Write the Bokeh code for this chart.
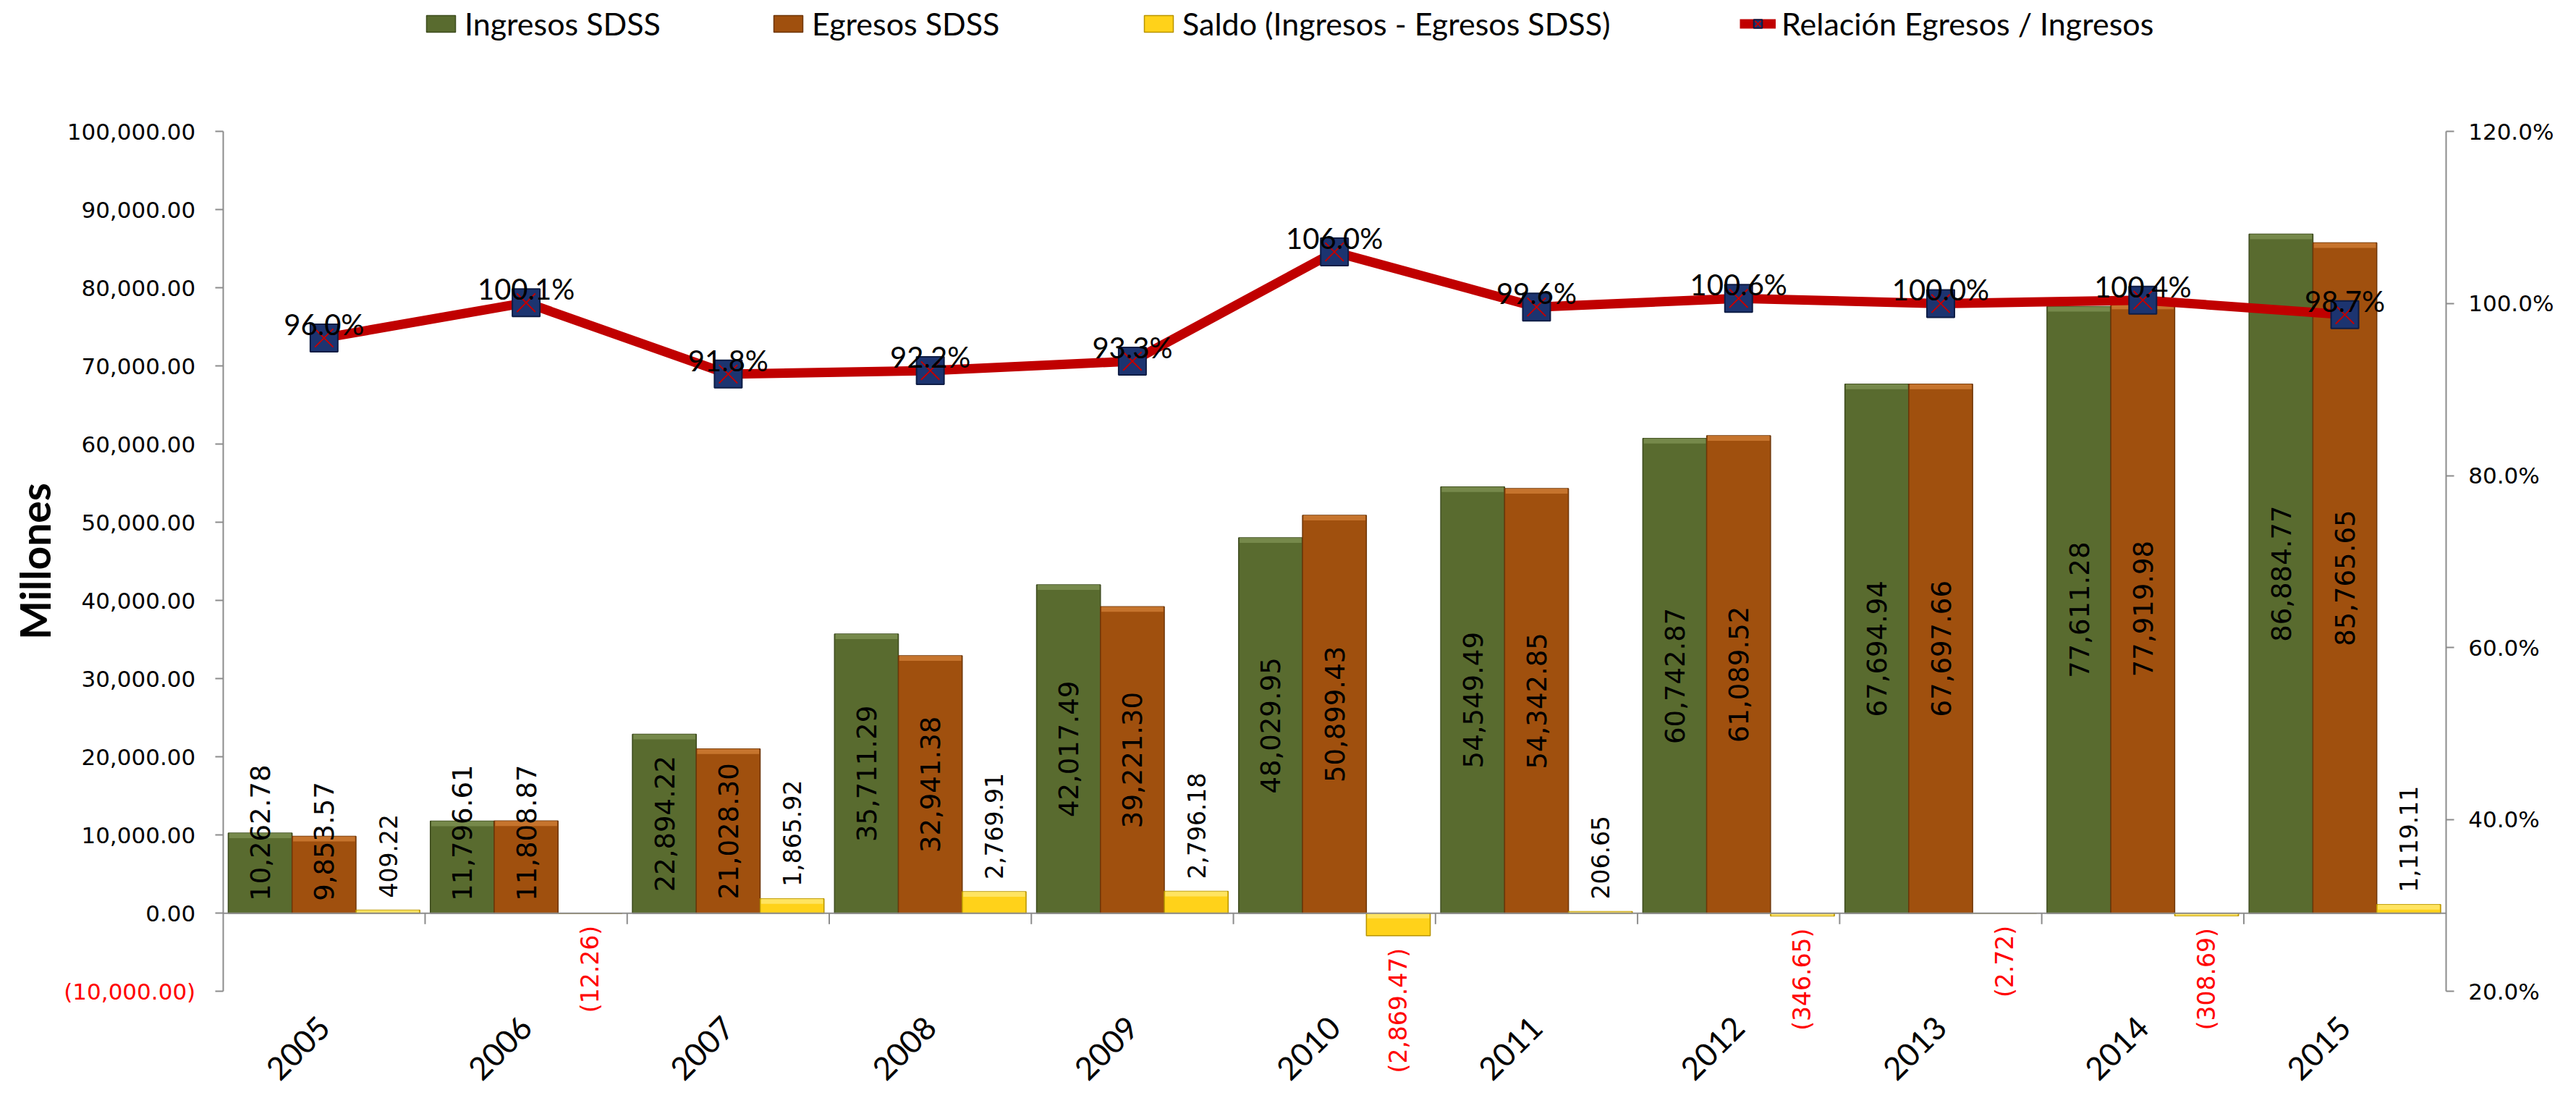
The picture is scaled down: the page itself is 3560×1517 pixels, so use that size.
import math
from bokeh.plotting import figure
from bokeh.models import (ColumnDataSource, Range1d, LinearAxis, FixedTicker,
                          NumeralTickFormatter, PrintfTickFormatter, Label, Legend, LegendItem)
from bokeh.transform import dodge
from bokeh.core.properties import value
from bokeh.embed import file_html
from bokeh.resources import INLINE

# ---------------- data ----------------
years = ["2005", "2006", "2007", "2008", "2009", "2010", "2011", "2012", "2013", "2014", "2015"]
ingresos = [10262.78, 11796.61, 22894.22, 35711.29, 42017.49, 48029.95, 54549.49, 60742.87, 67694.94, 77611.28, 86884.77]
egresos = [9853.57, 11808.87, 21028.30, 32941.38, 39221.30, 50899.43, 54342.85, 61089.52, 67697.66, 77919.98, 85765.65]
saldo = [409.22, -12.26, 1865.92, 2769.91, 2796.18, -2869.47, 206.65, -346.65, -2.72, -308.69, 1119.11]
relacion = [96.0, 100.1, 91.8, 92.2, 93.3, 106.0, 99.6, 100.6, 100.0, 100.4, 98.7]

y_ticks = [-10000, 0, 10000, 20000, 30000, 40000, 50000, 60000, 70000, 80000, 90000, 100000]
pct_ticks = [20, 40, 60, 80, 100, 120]

series_names = ["Ingresos SDSS", "Egresos SDSS", "Saldo (Ingresos - Egresos SDSS)",
                "Relación Egresos / Ingresos"]

# ---------------- layout / style ----------------
W, H = 3544, 1501
AX_L, AX_R = 307.7, 3379.7        # pixel x of left / right value axes
Y_TOP, Y_BOT = 181.3, 1369.3      # pixel y of top / bottom of value axes
n = len(years)
gw = (AX_R - AX_L) / n
upp = (y_ticks[-1] - y_ticks[0]) / (Y_BOT - Y_TOP)
ppp = (pct_ticks[-1] - pct_ticks[0]) / (Y_BOT - Y_TOP)

GREEN, GREEN_D, GREEN_L = "#596B2F", "#3E4C1F", "#7D9152"
ORANGE, ORANGE_D, ORANGE_L = "#A0500E", "#6E3608", "#CF7D36"
YELLOW, YELLOW_D, YELLOW_L = "#FFD21A", "#B89400", "#FFE873"
RED = "#C00000"
NAVY, NAVY_D = "#1C3470", "#0E1D45"
AXIS_C = "#8C8C8C"

BAR_FS = 37
SAL_FS = 33


def fmt(v):
    return f"{v:,.2f}" if v >= 0 else f"({abs(v):,.2f})"


def text_len(s, fs):
    return sum(0.318 if c in ",." else 0.636 for c in s) * fs


def inside_y(v, s):
    return max(v / 2.0, (text_len(s, BAR_FS) / 2.0 + 17) * upp)


def band(v):
    hi = max(v, 0.0)
    lo = max(min(v, 0.0), hi - 7 * upp)
    return hi, lo


xs = [i + 0.5 for i in range(n)]
ing_txt = [fmt(v) for v in ingresos]
egr_txt = [fmt(v) for v in egresos]
src = ColumnDataSource(dict(
    x=xs, ing=ingresos, egr=egresos, sal=saldo, rel=relacion,
    ing_txt=ing_txt, egr_txt=egr_txt,
    ing_ly=[inside_y(v, s) for v, s in zip(ingresos, ing_txt)],
    egr_ly=[inside_y(v, s) for v, s in zip(egresos, egr_txt)],
    rel_txt=[f"{v:.1f}%" for v in relacion],
    rel_ly=[v + 19 * ppp for v in relacion],
    ing_bh=[band(v)[0] for v in ingresos], ing_bl=[band(v)[1] for v in ingresos],
    egr_bh=[band(v)[0] for v in egresos], egr_bl=[band(v)[1] for v in egresos],
    sal_bh=[band(v)[0] for v in saldo], sal_bl=[band(v)[1] for v in saldo],
))

pos_idx = [i for i, v in enumerate(saldo) if v >= 0]
neg_idx = [i for i, v in enumerate(saldo) if v < 0]
src_pos = ColumnDataSource(dict(x=[xs[i] for i in pos_idx],
                                y=[saldo[i] + 17 * upp for i in pos_idx],
                                t=[fmt(saldo[i]) for i in pos_idx]))
src_neg = ColumnDataSource(dict(x=[xs[i] for i in neg_idx],
                                y=[saldo[i] - 17 * upp for i in neg_idx],
                                t=[fmt(saldo[i]) for i in neg_idx]))

p = figure(width=W, height=H, frame_width=W, frame_height=H,
           x_range=Range1d(-AX_L / gw, n + (W - AX_R) / gw),
           y_range=Range1d(y_ticks[0] - (H - Y_BOT) * upp, y_ticks[-1] + Y_TOP * upp),
           min_border=0, output_backend="svg", toolbar_location=None)
p.title.visible = False
p.extra_y_ranges = {"pct": Range1d(pct_ticks[0] - (H - Y_BOT) * ppp, pct_ticks[-1] + Y_TOP * ppp)}
p.xgrid.visible = False
p.ygrid.visible = False
p.outline_line_color = None
p.background_fill_color = "white"
p.border_fill_color = "white"

bw = 0.316
r_ing = p.vbar(x=dodge("x", -bw), top="ing", bottom=0, width=bw, source=src,
               fill_color=GREEN, line_color=GREEN_D, line_width=1.5)
r_egr = p.vbar(x=dodge("x", 0), top="egr", bottom=0, width=bw, source=src,
               fill_color=ORANGE, line_color=ORANGE_D, line_width=1.5)
r_sal = p.vbar(x=dodge("x", bw), top="sal", bottom=0, width=bw, source=src,
               fill_color=YELLOW, line_color=YELLOW_D, line_width=1.5)
# bevel highlight on bar tops
p.vbar(x=dodge("x", -bw), top="ing_bh", bottom="ing_bl", width=bw * 0.97, source=src,
       fill_color=GREEN_L, line_color=None, fill_alpha=0.8)
p.vbar(x=dodge("x", 0), top="egr_bh", bottom="egr_bl", width=bw * 0.97, source=src,
       fill_color=ORANGE_L, line_color=None, fill_alpha=0.8)
p.vbar(x=dodge("x", bw), top="sal_bh", bottom="sal_bl", width=bw * 0.97, source=src,
       fill_color=YELLOW_L, line_color=None, fill_alpha=0.8)

# zero line and category separators
p.segment(x0=0, y0=0, x1=n, y1=0, line_color=AXIS_C, line_width=2)
p.segment(x0="b", y0=0, x1="b", y1=-15 * upp, source=ColumnDataSource(dict(b=list(range(1, n)))),
          line_color=AXIS_C, line_width=2)

# bar labels
p.text(x=dodge("x", -bw), y="ing_ly", text="ing_txt", source=src, angle=math.pi / 2,
       text_align="center", text_baseline="middle", text_font=value("DejaVu Sans"),
       text_font_size=f"{BAR_FS}px", text_color="black")
p.text(x=dodge("x", 0), y="egr_ly", text="egr_txt", source=src, angle=math.pi / 2,
       text_align="center", text_baseline="middle", text_font=value("DejaVu Sans"),
       text_font_size=f"{BAR_FS}px", text_color="black")
p.text(x=dodge("x", bw), y="y", text="t", source=src_pos, angle=math.pi / 2,
       text_align="left", text_baseline="middle", text_font=value("DejaVu Sans"),
       text_font_size=f"{SAL_FS}px", text_color="black")
p.text(x=dodge("x", bw), y="y", text="t", source=src_neg, angle=math.pi / 2,
       text_align="right", text_baseline="middle", text_font=value("DejaVu Sans"),
       text_font_size=f"{SAL_FS}px", text_color="#FF0000")

# ratio line
r_line = p.line(x="x", y="rel", source=src, y_range_name="pct", line_color=RED, line_width=13)
r_sq = p.scatter(x="x", y="rel", source=src, y_range_name="pct", marker="square", size=38,
                 fill_color=NAVY, line_color=NAVY_D, line_width=2)
r_x = p.scatter(x="x", y="rel", source=src, y_range_name="pct", marker="x", size=36,
                line_color=RED, line_width=2)
p.text(x="x", y="rel_ly", text="rel_txt", source=src, y_range_name="pct",
       text_align="center", text_baseline="alphabetic", text_font=value("Lato"),
       text_font_size="40px", text_color="black")

# left axis (fixed at left edge of the value area)
ya = p.yaxis[0]
ya.fixed_location = 0
ya.bounds = (y_ticks[0], y_ticks[-1])
ya.ticker = FixedTicker(ticks=y_ticks)
ya.formatter = NumeralTickFormatter(format="0,0.00")
ya.major_label_overrides = {y_ticks[0]: ""}
ya.major_label_text_font = "DejaVu Sans"
ya.major_label_text_font_size = "31px"
ya.major_label_text_color = "black"
ya.axis_line_color = AXIS_C
ya.axis_line_width = 2
ya.major_tick_line_color = AXIS_C
ya.major_tick_line_width = 2
ya.major_tick_out = 11
ya.major_tick_in = 0
ya.minor_tick_line_color = None
ya.major_label_standoff = 27
ya.axis_label = "Millones"
ya.axis_label_text_font = "Lato"
ya.axis_label_text_font_style = "bold"
ya.axis_label_text_font_size = "57px"
ya.axis_label_text_color = "black"
ya.axis_label_standoff = 8

p.add_layout(Label(x=-38 / gw, y=y_ticks[0], text=fmt(y_ticks[0]), text_align="right",
                   text_baseline="middle", text_font="DejaVu Sans", text_font_size="31px",
                   text_color="#FF0000"))

# right axis
ra = LinearAxis(y_range_name="pct", ticker=FixedTicker(ticks=pct_ticks),
                formatter=PrintfTickFormatter(format="%.1f%%"),
                fixed_location=n, bounds=(pct_ticks[0], pct_ticks[-1]))
ra.major_label_text_font = "DejaVu Sans"
ra.major_label_text_font_size = "31px"
ra.major_label_text_color = "black"
ra.axis_line_color = AXIS_C
ra.axis_line_width = 2
ra.major_tick_line_color = AXIS_C
ra.major_tick_line_width = 2
ra.major_tick_out = 11
ra.major_tick_in = 0
ra.minor_tick_line_color = None
ra.major_label_standoff = 20
p.add_layout(ra, "right")

# category axis (fixed at the bottom of the value area)
xa = p.xaxis[0]
xa.fixed_location = y_ticks[0]
xa.ticker = FixedTicker(ticks=xs)
xa.major_label_overrides = {x: y for x, y in zip(xs, years)}
xa.axis_line_color = None
xa.major_tick_line_color = None
xa.minor_tick_line_color = None
xa.major_label_orientation = math.pi / 4
xa.major_label_text_font = "Lato"
xa.major_label_text_font_size = "44px"
xa.major_label_text_color = "black"
xa.major_label_standoff = 36

# legends (one per item, positioned along the top)
leg_x = [584, 1064, 1576, 2404]
leg_r = [[r_ing], [r_egr], [r_sal], [r_line, r_sq, r_x]]
for lx, name, rs in zip(leg_x, series_names, leg_r):
    lg = Legend(items=[LegendItem(label=name, renderers=rs)], location=(lx, H - 58),
                orientation="horizontal", glyph_width=50, glyph_height=29, label_standoff=8,
                padding=0, margin=0, border_line_color=None, background_fill_alpha=0,
                label_text_font="Lato", label_text_font_size="43px", label_text_color="black")
    p.add_layout(lg)

open("out.html", "w").write(file_html(p, INLINE))
